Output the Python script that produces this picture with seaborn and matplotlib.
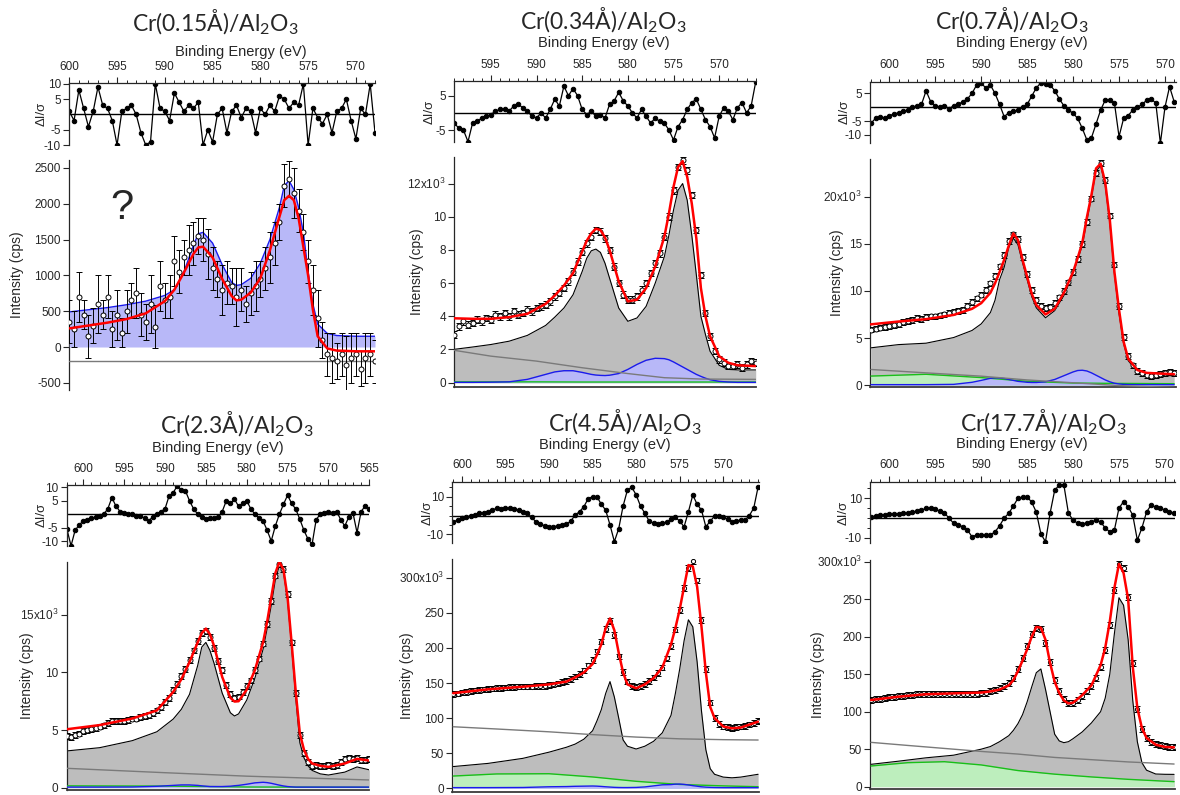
import numpy as np
import matplotlib
matplotlib.use("Agg")
import matplotlib.pyplot as plt
from matplotlib.ticker import MultipleLocator
import seaborn as sns

sns.set_theme(style="ticks")
plt.rcParams["font.family"] = ["Liberation Sans", "DejaVu Sans"]
plt.rcParams["mathtext.fontset"] = "custom"
plt.rcParams["mathtext.rm"] = "Lato"
plt.rcParams["axes.linewidth"] = 0.9

W, H = 1180, 795

# ---------------- Cr(0.15A) ----------------
p1_data = [350, 250, 700, 450, 150, 300, 600, 450, 700, 250,
           450, 200, 500, 650, 750, 450, 350, 600, 280, 850,
           650, 700, 1200, 1050, 1250, 1350, 1450, 1550, 1500, 1300,
           1100, 950, 800, 900, 850, 700, 800, 600, 750, 850,
           950, 1100, 1250, 1450, 1750, 2250, 2350, 2150, 1900, 1600,
           1200, 800, 400, 100, -100, -150, -200, -100, -250, -150,
           -100, -300, -150, -100, -200]
p1_err = [300, 250, 350, 200, 300, 250, 400, 200, 300, 250,
          350, 200, 300, 250, 350, 300, 250, 400, 300, 350,
          250, 300, 350, 300, 250, 350, 300, 250, 300, 350,
          300, 250, 350, 300, 250, 400, 300, 250, 300, 350,
          250, 300, 350, 300, 250, 300, 250, 350, 300, 250,
          300, 350, 400, 250, 300, 350, 250, 300, 400, 350,
          300, 250, 350, 300, 300]
p1_res = [1, -2, 8, 2, -4, 1, 9, 3, 2, -2,
          -10, 1, 2, 3, 0, -6, -10, -9, 10, 2,
          1, -2, 7, 4, 1, 3, 2, 4, -10, -5,
          -9, 0, 2, -6, 1, 3, -1, 2, 1, -6,
          2, 0, 3, 1, 6, 5, 2, 4, 3, 10,
          -10, 2, -1, -3, 0, -6, 1, 2, 5, -2,
          -8, 2, 0, 10, -6]
p1_efit = [600, 598, 596, 594, 592, 590, 589, 588, 587, 586.5, 586, 585, 584, 583, 582.5, 582,
           581, 580, 579, 578, 577.5, 577, 576.5, 576, 575.5, 575, 574.5, 574, 573, 572, 570, 568]
p1_fit = [260, 300, 340, 390, 470, 640, 800, 1040, 1300, 1390, 1400, 1250, 950, 710, 650, 660,
          760, 960, 1350, 1820, 2050, 2110, 2050, 1800, 1400, 1000, 520, 150, -20, -50, -60, -60]
p1_blue = [490, 520, 550, 590, 640, 720, 800, 1050, 1420, 1580, 1600, 1450, 1150, 900, 860, 870,
           960, 1170, 1500, 1950, 2250, 2320, 2200, 1950, 1600, 1050, 600, 320, 190, 160, 150, 150]
p1_ebg = [600, 568]
p1_bg = [-200, -200]

# ---------------- Cr(0.34A) ----------------
p2_data = [2.9, 3.4, 3.7, 3.5, 3.6, 3.8, 3.7, 3.9, 3.8, 4.1,
           4.0, 4.2, 4.0, 4.3, 4.1, 4.2, 4.4, 4.3, 4.5, 4.6,
           4.7, 4.9, 5.2, 5.4, 5.7, 6.1, 6.7, 7.3, 7.9, 8.4,
           8.8, 9.2, 9.1, 8.7, 8.0, 7.0, 6.0, 5.3, 5.0, 5.0,
           5.2, 5.6, 6.0, 6.6, 7.2, 7.8, 8.8, 10.0, 11.6, 13.0,
           13.4, 12.8, 11.3, 9.2, 6.5, 4.2, 2.8, 1.9, 1.4, 1.2,
           1.0, 1.0, 1.1, 0.9, 1.1, 1.3, 1.2]
p2_res = [-3, -4.5, -5, -8.4, -3, -2.5, -1.5, -1, -0.5, 0.5,
          1, 1, 0.5, 2, 2.5, 1.5, 0.5, -1, -1.5, 0,
          -1.5, 1, 4, 2, 7.8, 5, 7.1, 5, 1, -0.5,
          0.5, -1, -0.5, -1.5, 2.5, 3.5, 6, 3.5, 2, 0,
          -1.5, 1, -1, -3, -1.5, -2.5, -3, -5, -7.9, -4,
          -2, 1, 3, 4, 1, -2, -4, -7.3, -1, 1.5,
          0.5, -2, 1.5, 3, 0, 2, 9]
p2_efit = [599, 597, 595, 593, 591, 589, 588, 587, 586, 585, 584.5, 584, 583.5, 583, 582.5, 582,
           581, 580, 579, 578, 577, 576, 575.5, 575, 574.5, 574, 573.5, 573, 572.5, 572, 571.5,
           571, 570, 569, 568, 566]
p2_fit = [3.88, 3.85, 3.85, 3.95, 4.15, 4.75, 5.25, 5.85, 6.6, 7.9, 8.55, 9.0, 9.28, 9.2, 8.75, 8.0,
          6.1, 4.9, 5.0, 5.7, 7.0, 8.8, 10.2, 11.8, 13.0, 13.35, 12.4, 10.8, 8.7, 5.7, 4.0,
          2.8, 1.6, 1.2, 1.05, 1.0]
p2_env = [2.01, 2.15, 2.3, 2.5, 2.85, 3.45, 3.95, 4.5, 5.3, 6.7, 7.5, 7.95, 8.05, 7.85, 7.2, 6.3,
          4.5, 3.7, 3.9, 4.6, 6.0, 7.6, 8.9, 10.4, 11.6, 12.0, 11.0, 8.9, 6.5, 4.0, 2.9,
          1.9, 1.05, 0.8, 0.77, 0.77]
p2_blue = [0.02, 0.02, 0.03, 0.05, 0.2, 0.5, 0.65, 0.72, 0.72, 0.62, 0.56, 0.5, 0.46, 0.44, 0.43, 0.45,
           0.55, 0.8, 1.1, 1.35, 1.47, 1.45, 1.38, 1.25, 1.1, 0.95, 0.8, 0.65, 0.5, 0.38, 0.27,
           0.18, 0.08, 0.04, 0.02, 0.02]
p2_ebg = [599, 595, 590, 585, 580, 576, 572, 566]
p2_bg = [1.95, 1.6, 1.3, 0.9, 0.55, 0.3, 0.22, 0.2]
p2_green = [0.05, 0.05, 0.05, 0.04, 0.04, 0.04, 0.04, 0.04]

# ---------------- Cr(0.7A) ----------------
p3_data = [5.9, 6.0, 6.1, 6.2, 6.3, 6.4, 6.5, 6.7, 6.8, 6.9,
           7.1, 7.0, 7.2, 7.3, 7.3, 7.4, 7.5, 7.7, 7.8, 7.9,
           8.0, 8.4, 8.8, 9.2, 9.6, 10.1, 10.8, 11.6, 12.6, 13.8,
           15.3, 16.0, 15.5, 13.6, 11.8, 10.1, 9.0, 8.4, 8.2, 8.3,
           8.7, 9.3, 10.0, 10.9, 12.0, 13.4, 15.0, 17.3, 19.8, 22.5,
           23.6, 21.8, 18.0, 12.8, 8.4, 5.1, 3.1, 2.1, 1.5, 1.3,
           1.1, 1.0, 1.1, 1.2, 1.3, 1.4, 1.3]
p3_res = [-5.8, -4, -3.5, -4, -3, -2.5, -2, -1.5, -1, 0,
          0.5, 1, 5.9, 2, 0.5, 0, 0.5, -0.5, 0.5, 1,
          2, 3, 5, 8, 8.6, 7, 8, 5, 1, -3.4,
          -2, -1.5, -1, 0, 1, 4, 7, 8.8, 8.5, 8,
          6, 3, 0.5, -1, -2.2, -4, -7.6, -11.8, -11, -6,
          -1, 2.6, 2.5, 1.5, -10.6, -4, -3, -1, 0, 1,
          2.5, 3, 1.5, -13, 0, 7.4, 2]
p3_efit = [602, 599, 596, 593, 591, 590, 589, 588.5, 588, 587.5, 587, 586.5, 586, 585.5, 585,
           584.5, 584, 583, 582, 581, 580, 579.5, 579, 578.5, 578, 577.5, 577, 576.5, 576, 575.5,
           575, 574.5, 574, 573, 572, 570, 569]
p3_fit = [6.45, 6.75, 7.0, 7.45, 8.1, 8.7, 9.8, 10.8, 12.0, 13.3, 14.8, 16.1, 15.4, 13.3, 11.5,
          9.7, 8.5, 7.5, 8.1, 9.8, 12.0, 13.5, 15.1, 17.8, 20.2, 23.0, 23.5, 21.5, 17.5, 12.0,
          8.0, 4.6, 2.8, 1.6, 1.3, 1.2, 1.15]
p3_env = [3.96, 4.3, 4.45, 5.05, 5.8, 6.5, 7.7, 9.0, 11.2, 12.5, 14.6, 15.6, 14.9, 13.0, 11.2,
          9.4, 8.2, 7.15, 7.9, 9.5, 11.8, 13.3, 14.8, 17.4, 20.0, 22.7, 23.3, 21.2, 17.2, 11.8,
          7.6, 4.4, 2.6, 1.4, 1.1, 1.0, 1.0]
p3_blue = [0.05, 0.05, 0.05, 0.08, 0.3, 0.5, 0.72, 0.78, 0.75, 0.7, 0.6, 0.5, 0.4, 0.35, 0.3,
           0.28, 0.28, 0.35, 0.6, 1.0, 1.4, 1.55, 1.58, 1.5, 1.3, 1.05, 0.8, 0.55, 0.35, 0.2,
           0.12, 0.08, 0.06, 0.05, 0.05, 0.05, 0.05]
p3_ebg = [602, 596, 590, 585, 580, 575, 569]
p3_bg = [1.66, 1.3, 0.95, 0.55, 0.25, -0.05, -0.25]
p3_green = [0.96, 1.15, 0.8, 0.4, 0.22, 0.18, 0.15]

# ---------------- Cr(2.3A) ----------------
p4_data = [4.5, 4.4, 4.6, 4.7, 4.9, 5.0, 5.1, 5.2, 5.3, 5.4,
           5.6, 5.8, 5.8, 5.8, 5.8, 5.9, 6.0, 6.0, 6.1, 6.2,
           6.3, 6.5, 6.7, 7.0, 7.4, 7.8, 8.5, 9.0, 9.7, 10.3,
           11.1, 11.9, 12.7, 13.4, 13.6, 13.1, 12.1, 11.0, 10.2, 8.9,
           8.1, 7.8, 7.9, 8.3, 8.8, 9.3, 10.2, 11.2, 12.5, 14.2,
           16.2, 18.4, 19.4, 19.0, 16.8, 12.6, 8.2, 4.6, 3.0, 2.2,
           1.9, 2.0, 1.9, 1.9, 2.0, 1.9, 2.0, 2.2, 2.5, 2.6,
           2.5, 2.6, 2.4, 2.4, 2.5]
p4_res = [-5.6, -11.8, -6, -4, -2.5, -2, -1.5, -1, -0.5, 0,
          2, 6.2, 3, 1, 0.5, 0, 0, -0.5, -0.6, -1.5,
          -2.5, -1, 0, 1, 2, 6.8, 8, 10.6, 9, 8.7,
          5, 2, 0, -1, -1.9, -1.5, -1.5, -1.2, 1, 5,
          4, 5.6, 3, 4, 5, 2, 0, -1.5, -2.5, -6,
          -10, -4.4, 0, 3.7, 7.1, 4, 1.9, -1.9, -6, -9.3,
          -11.2, -2, 0, 0.5, 1, 0.6, 1, -2, -4.4, -1,
          0.5, -6.9, 1, 3.1, 2]
p4_efit = [602, 598, 594, 591, 589, 588, 587, 586, 585.5, 585, 584.5, 584, 583, 582, 581.5, 581,
           580, 579, 578, 577.5, 577, 576.5, 576, 575.5, 575, 574.5, 574, 573.5, 573, 572.5, 572,
           571, 570, 568, 566.5, 565]
p4_fit = [5.07, 5.43, 6.0, 6.7, 8.3, 9.4, 10.9, 12.6, 13.4, 13.8, 13.3, 12.3, 9.6, 7.8, 7.47, 7.5,
          8.5, 10.2, 12.6, 14.4, 16.5, 18.6, 19.6, 18.9, 16.5, 12.5, 8.3, 4.7, 3.3, 2.5, 2.1,
          1.9, 1.8, 2.1, 2.5, 2.35]
p4_env = [3.19, 3.47, 4.08, 4.85, 5.95, 6.8, 8.1, 10.6, 12.2, 12.6, 11.9, 10.8, 8.2, 6.5, 6.22, 6.4,
          7.6, 9.5, 12.0, 13.8, 15.8, 18.0, 19.3, 18.7, 16.3, 12.2, 7.8, 3.9, 2.6, 1.9, 1.5,
          1.2, 1.1, 1.35, 1.8, 1.55]
p4_blue = [0.05, 0.05, 0.06, 0.12, 0.2, 0.24, 0.24, 0.2, 0.16, 0.13, 0.1, 0.1, 0.1, 0.13, 0.17, 0.2,
           0.3, 0.42, 0.47, 0.44, 0.38, 0.3, 0.22, 0.15, 0.1, 0.07, 0.05, 0.05, 0.05, 0.05, 0.05,
           0.05, 0.05, 0.05, 0.05, 0.05]
p4_ebg = [602, 590, 580, 565]
p4_bg = [1.68, 1.3, 1.0, 0.67]
p4_green = [0.16, 0.14, 0.06, 0.04]

# ---------------- Cr(4.5A) ----------------
p5_data = [134, 135, 136.5, 137.5, 138.5, 139.5, 140, 141, 141.5, 142,
           142.5, 143, 143.5, 144, 144.5, 145, 145, 145, 145, 145.5,
           145.5, 146, 147, 148, 149.5, 151, 153, 155.5, 159, 163,
           168, 175, 183, 195, 209, 227, 238, 218, 188, 166,
           152, 146, 144, 146, 149, 153, 158, 164, 172, 185,
           203, 226, 254, 285, 314, 324, 296, 240, 170, 122,
           100, 92, 88, 87, 86, 87, 88, 89, 91, 93,
           96]
p5_res = [-3.3, -2.5, -1.5, -1, 0, 0.5, 1.2, 1.5, 2, 3,
          3.8, 3.5, 3.8, 4, 3.5, 3, 2, 1.5, -1, -3.3,
          -4.5, -5.5, -6, -6, -5.5, -5, -4.6, -3, 0.3, 2,
          4.7, 9, 10, 10, 6, 2.9, -5, -13.9, -7, 5,
          13.6, 15, 11, 5, 1.2, -3, -4.1, -4.5, -4.1, -3.5,
          -2, -0.9, -3, -6, 2, 10.9, 6, 2.9, -6, -3,
          -0.3, -0.5, -0.9, -2, -3.3, -3, -2.4, -2.4, 0, 4,
          15.3]
p5_efit = [601, 597, 593, 590, 588, 587, 586, 585, 584.5, 584, 583.5, 583, 582.5, 582, 581.5, 581,
           580, 579, 578, 577, 576, 575.5, 575, 574.5, 574, 573.5, 573, 572.5, 572, 571.5, 571,
           570, 569, 568, 566]
p5_fit = [135.5, 141, 144.7, 148, 152, 158, 165, 177, 190, 205, 228, 242, 225, 193, 165, 148,
          142.5, 148, 157, 172, 205, 228, 255, 287, 318, 316, 287, 230, 165, 116, 100,
          88, 85.5, 86.5, 95]
p5_env = [31, 35.5, 42.7, 51.5, 58.5, 63, 70, 82, 96, 112, 135, 152, 130, 100, 69, 60,
          56, 60, 67, 79, 104, 135, 170, 210, 240, 230, 180, 110, 55, 28, 20,
          16, 15, 16, 20]
p5_blue = [1, 1, 1.2, 2.2, 2.5, 2.9, 3.1, 3.3, 3.1, 2.7, 2.2, 1.8, 1.4, 1.2, 1.1, 1.1,
           1.3, 2.0, 3.5, 5.0, 5.3, 6.0, 6.1, 5.6, 4.8, 3.8, 3.0, 2.2, 1.7, 1.4, 1.2,
           1.0, 1.0, 1.0, 1.0]
p5_ebg = [601, 596, 590, 585, 580, 575, 570, 566]
p5_bg = [87.7, 84.5, 80.5, 76.5, 73, 70.5, 69.3, 68.8]
p5_green = [17.5, 20.5, 20.8, 16.2, 10, 5.5, 3.5, 2.3]

# ---------------- Cr(17.7A) ----------------
p6_data = [115, 116.5, 117.5, 118.5, 119.5, 120, 121, 121.5, 122, 122.5,
           123, 123.5, 123.5, 124, 124, 124, 124, 124, 124, 124,
           124, 124, 124, 124, 124.5, 125.5, 127, 129, 131, 134,
           138, 145, 157, 172, 188, 203, 212, 210, 192, 166,
           142, 127, 117, 112, 112, 115, 121, 127, 134, 145,
           160, 182, 216, 262, 297, 292, 253, 165, 104, 77,
           65, 60, 57, 55, 54, 53.5, 53]
p6_res = [0.7, 1, 1.5, 1.5, 2, 2, 2.2, 2.4, 2.4, 3,
          3.5, 4, 4.9, 4.9, 4.5, 3.5, 2.5, 0, -2.7, -3.5,
          -4.4, -6, -9.5, -8.6, -8.6, -8.8, -8.6, -7, -4, 0,
          2.4, 6, 10, 10.5, 10.8, 8, 3, -8, -12, 2.4,
          14, 16.8, 16.8, 2.4, -1, -2.7, -3, -2.5, -2, -1,
          -2, -5, -7, -6.1, 5, 8.3, 5.7, 1.5, -11.2, -5,
          3, 6.6, 5.5, 5, 4, 3, 2.4]
p6_efit = [602, 599, 596, 593, 590, 589, 588, 587, 586.5, 586, 585.5, 585, 584.5, 584, 583.5, 583,
           582.5, 582, 581.5, 581, 580.5, 580, 579, 578, 577, 576.5, 576, 575.5, 575, 574.5, 574,
           573.5, 573, 572.5, 572, 571, 570, 569]
p6_fit = [115.6, 120, 123.3, 124.4, 125.5, 127, 129.5, 135, 142, 154, 168, 183, 200, 213, 212, 196,
          165, 140, 125, 115, 111, 112, 122, 135, 162, 185, 220, 265, 297, 285, 250,
          160, 105, 78, 65, 56, 53, 52.4]
p6_env = [29.8, 34, 38.5, 42, 50, 53.5, 60, 68, 75, 84, 96, 113, 133, 152, 157, 130,
          100, 70, 61, 58.7, 60, 64, 73, 85, 100, 118, 150, 204, 252, 242, 196,
          115, 60, 32, 22, 16.9, 16.5, 16.4]
p6_ebg = [602, 598, 594, 590, 586, 582, 578, 574, 569]
p6_bg = [59.1, 55, 51, 47, 43.5, 39, 36, 33, 30.2]
p6_green = [27.6, 32, 33.3, 29, 21.5, 16.7, 13, 9.8, 6.7]

titles = ["0.15", "0.34", "0.7", "2.3", "4.5", "17.7"]

# layout in pixels: left, right, res top, res bottom, main top, main bottom
panels = [
    dict(data=p1_data, err=p1_err, res=p1_res, erange=(600, 568), efit=p1_efit, fit=p1_fit,
         env=None, blue=p1_blue, ebg=p1_ebg, bg=p1_bg, green=None,
         box=(69.3, 375, 83, 145, 160, 390), xlim=(600, 568), rlim=(-10, 10.3), rticks=[10, 5, -5, -10],
         rminor=None, ylim=(-600, 2610), yticks=[-500, 0, 500, 1000, 1500, 2000, 2500], top_label=None,
         title=(215, 22), xlab=(241, 52), ylab_x=17, rlab_x=42, ms=3.6, bottom=False),
    dict(data=p2_data, err=0.2, res=p2_res, erange=(599, 566), efit=p2_efit, fit=p2_fit,
         env=p2_env, blue=p2_blue, ebg=p2_ebg, bg=p2_bg, green=p2_green,
         box=(454.3, 755.7, 81, 142, 157, 387), xlim=(599, 566), rlim=(-8.5, 9.3), rticks=[5, -5],
         rminor=None, ylim=(-0.26, 13.6), yticks=[0, 2, 4, 6, 8, 10, 12], top_label="12",
         title=(603, 20), xlab=(604, 43), ylab_x=417, rlab_x=430, ms=3.6, bottom=True),
    dict(data=p3_data, err=0.3, res=p3_res, erange=(602, 569), efit=p3_efit, fit=p3_fit,
         env=p3_env, blue=p3_blue, ebg=p3_ebg, bg=p3_bg, green=p3_green,
         box=(870.3, 1176, 81.7, 143, 159, 387), xlim=(602.07, 568.8), rlim=(-12.9, 9.2), rticks=[5, -5, -10],
         rminor=None, ylim=(-0.2, 24.0), yticks=[0, 5, 10, 15, 20], top_label="20",
         title=(1012, 20), xlab=(1022, 43), ylab_x=837, rlab_x=845, ms=3.6, bottom=True),
    dict(data=p4_data, err=0.25, res=p4_res, erange=(602, 565), efit=p4_efit, fit=p4_fit,
         env=p4_env, blue=p4_blue, ebg=p4_ebg, bg=p4_bg, green=p4_green,
         box=(66.7, 369.3, 485, 545.7, 561.7, 790), xlim=(602.03, 565), rlim=(-11.75, 10.9), rticks=[10, 5, -5, -10],
         rminor=None, ylim=(-0.2, 19.6), yticks=[0, 5, 10, 15], top_label="15",
         title=(237, 424), xlab=(218, 448), ylab_x=27, rlab_x=42, ms=3.6, bottom=True),
    dict(data=p5_data, err=4.0, res=p5_res, erange=(601, 566), efit=p5_efit, fit=p5_fit,
         env=p5_env, blue=p5_blue, ebg=p5_ebg, bg=p5_bg, green=p5_green,
         box=(452.3, 759, 481.7, 543.3, 559, 791.7), xlim=(601.1, 565.9), rlim=(-14.8, 18), rticks=[10, -10],
         rminor=5, ylim=(-4.8, 326.6), yticks=[0, 50, 100, 150, 200, 250, 300], top_label="300",
         title=(625, 422), xlab=(605, 445), ylab_x=407, rlab_x=428, ms=3.0, bottom=True),
    dict(data=p6_data, err=4.0, res=p6_res, erange=(602, 569), efit=p6_efit, fit=p6_fit,
         env=p6_env, blue=None, ebg=p6_ebg, bg=p6_bg, green=p6_green,
         box=(870.3, 1175, 481.7, 543.3, 560, 789.3), xlim=(602.07, 568.9), rlim=(-12.8, 18.4), rticks=[10, -10],
         rminor=5, ylim=(-3.5, 302.3), yticks=[0, 50, 100, 150, 200, 250, 300], top_label="300",
         title=(1043, 422), xlab=(1022, 444), ylab_x=818, rlab_x=844, ms=3.0, bottom=True),
]

GRAY_FILL = "#bdbdbd"
BLUE_FILL = "#b8b8f8"
BLUE_LINE = "#1a1aee"
GREEN_FILL = "#bdeebd"
GREEN_LINE = "#18c018"


def fx(x):
    return x / W


def fy(y):
    return 1 - y / H


def draw_panel(fig, p, name):
    L, R, rt, rb, mt, mb = p["box"]
    ax_r = fig.add_axes([fx(L), fy(rb), (R - L) / W, (rb - rt) / H])
    ax_m = fig.add_axes([fx(L), fy(mb), (R - L) / W, (mb - mt) / H])

    # residuals
    e_res = np.linspace(p["erange"][0], p["erange"][1], len(p["res"]))
    ax_r.axhline(0, color="black", lw=1.0, zorder=1)
    sns.lineplot(x=e_res, y=p["res"], ax=ax_r, color="black", lw=0.9, marker="o",
                 markersize=3.2, markeredgecolor="black", estimator=None, sort=False)
    ax_r.set_xlim(p["xlim"])
    ax_r.set_ylim(p["rlim"])
    ax_r.xaxis.tick_top()
    ax_r.xaxis.set_major_locator(MultipleLocator(5))
    ax_r.xaxis.set_minor_locator(MultipleLocator(1))
    ax_r.set_yticks(p["rticks"])
    ax_r.set_yticklabels([str(t) for t in p["rticks"]])
    if p["rminor"]:
        ax_r.yaxis.set_minor_locator(MultipleLocator(p["rminor"]))
    ax_r.tick_params(axis="x", which="major", direction="out", length=4.5, width=0.8,
                     labelsize=8.5, pad=3, top=True, bottom=False)
    ax_r.tick_params(axis="x", which="minor", direction="out", length=2.2, width=0.7,
                     top=True, bottom=False)
    ax_r.tick_params(axis="y", which="major", direction="out", length=4, width=0.8, labelsize=8.5, pad=2)
    ax_r.tick_params(axis="y", which="minor", direction="out", length=2.2, width=0.7)
    for s in ("right", "bottom"):
        ax_r.spines[s].set_visible(False)
    ax_r.set_xlabel("")
    ax_r.set_ylabel("")

    # main spectrum
    e_dat = np.linspace(p["erange"][0], p["erange"][1], len(p["data"]))
    if p["env"] is not None:
        ax_m.fill_between(p["efit"], 0, p["env"], color=GRAY_FILL, lw=0, zorder=1)
        sns.lineplot(x=p["efit"], y=p["env"], ax=ax_m, color="black", lw=0.8,
                     estimator=None, sort=False, zorder=2)
    if p["green"] is not None:
        ax_m.fill_between(p["ebg"], 0, p["green"], color=GREEN_FILL, lw=0, zorder=3)
        sns.lineplot(x=p["ebg"], y=p["green"], ax=ax_m, color=GREEN_LINE, lw=1.0,
                     estimator=None, sort=False, zorder=4)
    if p["blue"] is not None:
        ax_m.fill_between(p["efit"], 0, p["blue"], color=BLUE_FILL, lw=0, zorder=3)
        sns.lineplot(x=p["efit"], y=p["blue"], ax=ax_m, color=BLUE_LINE, lw=1.0,
                     estimator=None, sort=False, zorder=4)
    sns.lineplot(x=p["ebg"], y=p["bg"], ax=ax_m, color="#7a7a7a", lw=1.0,
                 estimator=None, sort=False, zorder=5)
    ax_m.errorbar(e_dat, p["data"], yerr=p["err"], fmt="o", ms=p["ms"], mfc="white",
                  mec="black", mew=0.7, ecolor="black", elinewidth=0.7, capsize=2.2,
                  capthick=0.8, zorder=6)
    sns.lineplot(x=p["efit"], y=p["fit"], ax=ax_m, color="#ff0000", lw=1.8,
                 estimator=None, sort=False, zorder=7)

    ax_m.set_xlim(p["xlim"])
    ax_m.set_ylim(p["ylim"])
    ax_m.set_xticks([])
    ax_m.set_yticks(p["yticks"])
    labels = [str(t) for t in p["yticks"]]
    if p["top_label"] is not None:
        labels[-1] = p["top_label"] + r"x10$^{3}$"
    ax_m.set_yticklabels(labels)
    ax_m.tick_params(axis="y", direction="out", length=4, width=0.8, labelsize=8.5, pad=2)
    ax_m.spines["top"].set_visible(False)
    ax_m.spines["right"].set_visible(False)
    if p["bottom"]:
        ax_m.spines["bottom"].set_color("#3a3a3a")
        ax_m.spines["bottom"].set_linewidth(1.3)
    else:
        ax_m.spines["bottom"].set_visible(False)
    ax_m.set_xlabel("")
    ax_m.set_ylabel("")

    # texts
    tx, ty = p["title"]
    fig.text(fx(tx), fy(ty), "Cr(" + name + "Å)/Al$_2$O$_3$", ha="center", va="center",
             fontsize=16.5, family=["Lato", "DejaVu Sans"], zorder=10)
    bx, by = p["xlab"]
    fig.text(fx(bx), fy(by), "Binding Energy (eV)", ha="center", va="center", fontsize=10.5)
    fig.text(fx(p["ylab_x"]), fy((mt + mb) / 2), "Intensity (cps)", rotation=90,
             ha="center", va="center", fontsize=10)
    fig.text(fx(p["rlab_x"]), fy((rt + rb) / 2), "ΔI/σ", rotation=90,
             ha="center", va="center", fontsize=9.5)
    return ax_r, ax_m


fig = plt.figure(figsize=(W / 100, H / 100), dpi=100)
axes = []
for p, name in zip(panels, titles):
    axes.append(draw_panel(fig, p, name))

# the question mark on the thinnest film
axes[0][1].text(594.5, 1940, "?", fontsize=30, ha="center", va="center")

fig.savefig("out.png", dpi=100)
